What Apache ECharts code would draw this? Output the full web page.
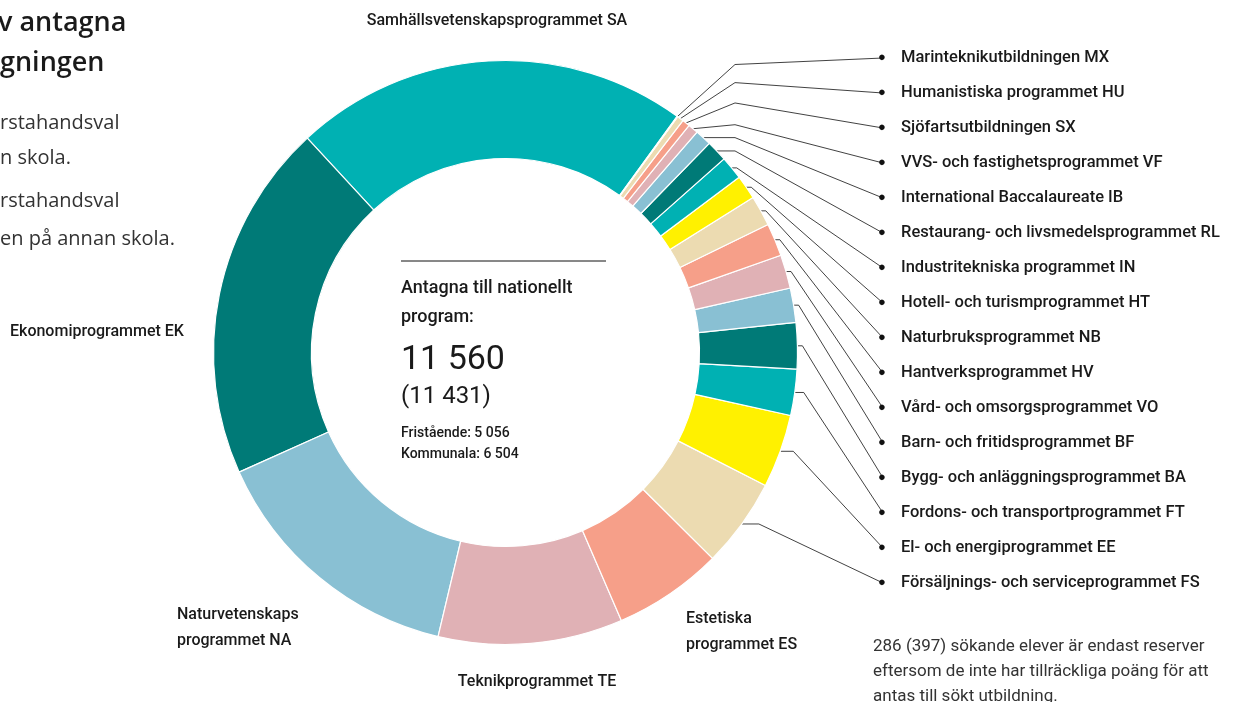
<!DOCTYPE html>
<html>
<head>
    <meta charset="utf-8">
    <title>Antagna till nationellt program</title>
    <script src="https://cdn.jsdelivr.net/npm/echarts@6/dist/echarts.min.js"></script>
    <style>
        html, body { margin: 0; padding: 0; background: #fff; }
    </style>
</head>
<body>
    <div id="main" style="width: 1233px;height:702px;"></div>
    <script type="text/javascript">
        // programnamn, i samma ordning som tårtbitarna (moturs från SA)
        var programs = [
            'Samhällsvetenskapsprogrammet SA',
            'Ekonomiprogrammet EK',
            'Naturvetenskaps\nprogrammet NA',
            'Teknikprogrammet TE',
            'Estetiska\nprogrammet ES',
            'Försäljnings- och serviceprogrammet FS',
            'El- och energiprogrammet EE',
            'Fordons- och transportprogrammet FT',
            'Bygg- och anläggningsprogrammet BA',
            'Barn- och fritidsprogrammet BF',
            'Vård- och omsorgsprogrammet VO',
            'Hantverksprogrammet HV',
            'Naturbruksprogrammet NB',
            'Hotell- och turismprogrammet HT',
            'Industritekniska programmet IN',
            'Restaurang- och livsmedelsprogrammet RL',
            'International Baccalaureate IB',
            'VVS- och fastighetsprogrammet VF',
            'Sjöfartsutbildningen SX',
            'Humanistiska programmet HU',
            'Marinteknikutbildningen MX'
        ];
        // antal antagna
        var admitted = [2530, 2295, 1685, 1180, 700, 570, 470, 295, 295, 220, 215,
                        210, 195, 155, 150, 135, 105, 65, 50, 40, 5];
        var palette = ['#00b1b3', '#007a77', '#89c0d3', '#e0b1b5', '#f69f89', '#ecdbb1', '#fff100'];

        var centerText = ['Antagna till nationellt', 'program:'];
        var total = '11 560';
        var totalPrev = '(11 431)';
        var split = ['Fristående: 5 056', 'Kommunala: 6 504'];
        var note = ['286 (397) sökande elever är endast reserver',
                    'eftersom de inte har tillräckliga poäng för att',
                    'antas till sökt utbildning.'];

        var nBig = 5;           // de fem största har etikett utan linje
        var labelFont = 'Roboto';
        var textColor = '#1a1a1a';

        // placering av etiketterna för de stora bitarna
        var bigLabelPos = [
            { x: 497, y: 21, align: 'center' },
            { x: 10, y: 332, align: 'left' },
            { x: 177, y: 628, align: 'left' },
            { x: 537, y: 682, align: 'center' },
            { x: 686, y: 632, align: 'left' }
        ];

        var data = programs.map(function (name, i) {
            return {
                name: name,
                value: admitted[i],
                itemStyle: { color: palette[i % palette.length] },
                labelLine: { show: i >= nBig }
            };
        });

        function rowOf(i) { return programs.length - 1 - i; }

        var myChart = echarts.init(document.getElementById('main'));

        var option = {
            backgroundColor: '#fff',
            animation: false,
            graphic: [
                { type: 'text', left: -2, top: 10, style: { text: 'v antagna', font: '600 27px "Open Sans"', fill: textColor } },
                { type: 'text', left: 0, top: 50, style: { text: 'gningen', font: '600 27px "Open Sans"', fill: textColor } },
                { type: 'text', left: 0, top: 113, style: { text: 'rstahandsval', font: '20px "Open Sans"', fill: '#333' } },
                { type: 'text', left: 0, top: 148, style: { text: 'n skola.', font: '20px "Open Sans"', fill: '#333' } },
                { type: 'text', left: 0, top: 191, style: { text: 'rstahandsval', font: '20px "Open Sans"', fill: '#333' } },
                { type: 'text', left: 0, top: 229, style: { text: 'en på annan skola.', font: '20px "Open Sans"', fill: '#333' } },

                { type: 'line', shape: { x1: 401, y1: 261, x2: 606, y2: 261 }, style: { stroke: '#111', lineWidth: 1 } },
                { type: 'text', left: 401, top: 279, style: { text: centerText[0], font: '500 18px ' + labelFont, fill: textColor } },
                { type: 'text', left: 401, top: 308, style: { text: centerText[1], font: '500 18px ' + labelFont, fill: textColor } },
                { type: 'text', left: 401, top: 343, style: { text: total, font: '34px ' + labelFont, fill: textColor } },
                { type: 'text', left: 401, top: 385, style: { text: totalPrev, font: '24px ' + labelFont, fill: textColor } },
                { type: 'text', left: 401, top: 426, style: { text: split[0], font: '500 14px ' + labelFont, fill: textColor } },
                { type: 'text', left: 401, top: 447, style: { text: split[1], font: '500 14px ' + labelFont, fill: textColor } },

                { type: 'text', left: 873, top: 638, style: { text: note[0], font: '17px ' + labelFont, fill: '#333' } },
                { type: 'text', left: 873, top: 663, style: { text: note[1], font: '17px ' + labelFont, fill: '#333' } },
                { type: 'text', left: 873, top: 688, style: { text: note[2], font: '17px ' + labelFont, fill: '#333' } }
            ],
            series: [
                {
                    name: 'Antagna',
                    type: 'pie',
                    center: [505.5, 352.5],
                    radius: [194, 292],
                    startAngle: 54,
                    clockwise: false,
                    minAngle: 0,
                    avoidLabelOverlap: false,
                    itemStyle: { borderColor: '#fff', borderWidth: 1.2 },
                    label: {
                        show: true,
                        position: 'outside',
                        color: textColor,
                        fontFamily: labelFont,
                        fontSize: 16,
                        fontWeight: 500,
                        lineHeight: 26,
                        formatter: function (p) {
                            if (p.dataIndex < nBig) return p.name;
                            return '{d|●}{t|' + p.name + '}';
                        },
                        rich: {
                            d: { fontSize: 13, width: 23, color: '#111' },
                            t: { fontSize: 16.5, fontWeight: 500, fontFamily: labelFont, color: textColor }
                        }
                    },
                    labelLine: {
                        lineStyle: { color: '#111', width: 0.8 }
                    },
                    labelLayout: function (params) {
                        var i = params.dataIndex;
                        if (i < nBig) {
                            var b = bigLabelPos[i];
                            return { x: b.x, y: b.y, align: b.align, verticalAlign: 'middle' };
                        }
                        var row = rowOf(i);
                        var ly = 57 + 35 * row;
                        var p0 = params.labelLinePoints ? params.labelLinePoints[0] : [0, 0];
                        var ex = Math.max(p0[0] + 5 + Math.max(0, row - 12) * 4, 735);
                        var ey = p0[1] - Math.max(0, 52 - 16 * row);
                        return {
                            x: 878,
                            y: ly + 1,
                            align: 'left',
                            verticalAlign: 'middle',
                            labelLinePoints: [p0, [ex, ey], [883, ly + 1]]
                        };
                    },
                    data: data
                }
            ]
        };
        myChart.setOption(option);
    </script>
</body>
</html>
